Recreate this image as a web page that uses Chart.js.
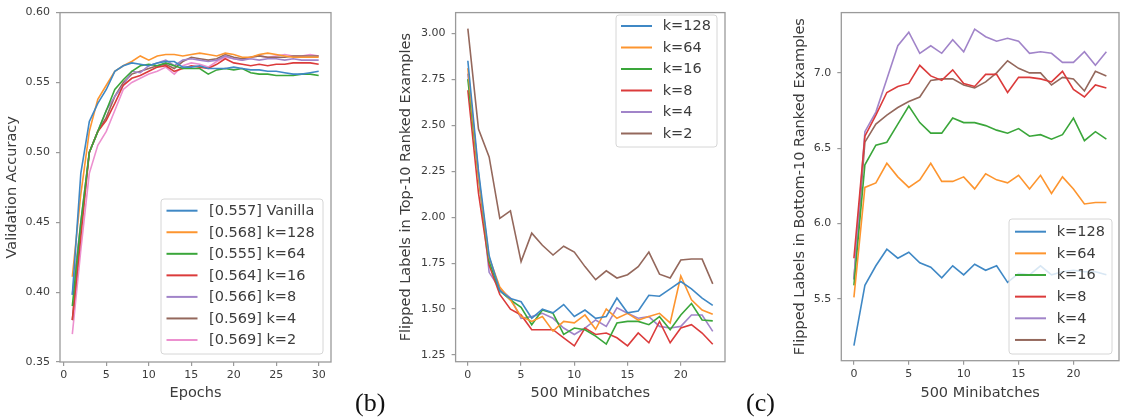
<!DOCTYPE html>
<html><head><meta charset="utf-8">
<script src="https://cdn.jsdelivr.net/npm/chart.js@4.4.1/dist/chart.umd.min.js"></script>
<style>
html,body{margin:0;padding:0;background:#fff;}
body{width:1125px;height:417px;position:relative;overflow:hidden;}
canvas{position:absolute;top:0;}
.cap{position:absolute;font-family:"Liberation Serif","DejaVu Serif",serif;font-size:26px;line-height:26px;color:#111;}
</style></head><body>
<canvas id="c1" width="345" height="417" style="left:0px;width:345px;height:417px"></canvas>
<canvas id="c2" width="370" height="417" style="left:380px;width:370px;height:417px"></canvas>
<canvas id="c3" width="365" height="417" style="left:760px;width:365px;height:417px"></canvas>
<div class="cap" style="left:355px;top:390px">(b)</div>
<div class="cap" style="left:746px;top:390px">(c)</div>
<script>
// ---------- data ----------
const epochs = [1,2,3,4,5,6,7,8,9,10,11,12,13,14,15,16,17,18,19,20,21,22,23,24,25,26,27,28,29,30];
const accLabels = ['[0.557] Vanilla','[0.568] k=128','[0.555] k=64','[0.564] k=16','[0.566] k=8','[0.569] k=4','[0.569] k=2'];
const accVanilla = [0.398,0.485,0.522,0.535,0.545,0.558,0.562,0.564,0.563,0.562,0.564,0.565,0.565,0.561,0.561,0.562,0.560,0.560,0.560,0.561,0.560,0.559,0.559,0.558,0.558,0.557,0.556,0.556,0.557,0.558];
const accK128 = [0.411,0.470,0.515,0.538,0.548,0.558,0.562,0.565,0.569,0.566,0.569,0.570,0.570,0.569,0.570,0.571,0.570,0.569,0.571,0.570,0.568,0.568,0.570,0.571,0.570,0.569,0.568,0.568,0.568,0.568];
const accK64 = [0.390,0.450,0.500,0.515,0.530,0.545,0.552,0.558,0.562,0.563,0.562,0.564,0.562,0.560,0.560,0.560,0.556,0.559,0.560,0.559,0.560,0.557,0.556,0.556,0.555,0.555,0.555,0.556,0.556,0.555];
const accK16 = [0.380,0.440,0.500,0.515,0.523,0.535,0.548,0.553,0.555,0.558,0.561,0.562,0.558,0.560,0.562,0.561,0.560,0.563,0.567,0.564,0.563,0.562,0.563,0.562,0.563,0.563,0.564,0.564,0.564,0.563];
const accK8 = [0.398,0.450,0.500,0.515,0.530,0.540,0.548,0.558,0.557,0.562,0.564,0.566,0.562,0.566,0.567,0.566,0.565,0.566,0.569,0.567,0.566,0.567,0.566,0.567,0.567,0.566,0.567,0.566,0.566,0.566];
const accK4 = [0.380,0.445,0.500,0.515,0.525,0.540,0.550,0.556,0.558,0.560,0.562,0.563,0.560,0.565,0.568,0.567,0.566,0.567,0.570,0.568,0.567,0.568,0.569,0.568,0.568,0.568,0.569,0.569,0.569,0.569];
const accK2 = [0.370,0.430,0.485,0.505,0.515,0.530,0.545,0.550,0.553,0.556,0.558,0.561,0.556,0.562,0.564,0.563,0.561,0.565,0.568,0.567,0.566,0.568,0.569,0.568,0.569,0.570,0.569,0.569,0.570,0.569];
const accXTicks = [0,5,10,15,20,25,30];
const accYTicks = [0.35,0.40,0.45,0.50,0.55,0.60];

const steps = [0,1,2,3,4,5,6,7,8,9,10,11,12,13,14,15,16,17,18,19,20,21,22,23];
const kLabels = ['k=128','k=64','k=16','k=8','k=4','k=2'];
const topK128 = [2.85,2.25,1.79,1.60,1.557,1.54,1.45,1.50,1.48,1.525,1.46,1.495,1.45,1.46,1.56,1.48,1.49,1.575,1.57,1.61,1.65,1.61,1.56,1.52];
const topK64 = [2.81,2.22,1.78,1.62,1.55,1.46,1.433,1.46,1.38,1.433,1.425,1.468,1.39,1.50,1.45,1.477,1.44,1.46,1.477,1.425,1.68,1.55,1.495,1.472];
const topK16 = [2.75,2.22,1.76,1.60,1.55,1.51,1.415,1.495,1.477,1.362,1.397,1.388,1.353,1.31,1.424,1.433,1.433,1.415,1.459,1.388,1.468,1.53,1.441,1.436];
const topK8 = [2.69,2.13,1.74,1.58,1.50,1.468,1.388,1.388,1.388,1.344,1.30,1.397,1.362,1.37,1.344,1.30,1.37,1.317,1.433,1.317,1.397,1.415,1.37,1.309];
const topK4 = [2.78,2.24,1.70,1.61,1.56,1.45,1.459,1.477,1.45,1.397,1.362,1.397,1.441,1.406,1.507,1.477,1.45,1.459,1.406,1.397,1.406,1.468,1.468,1.379];
const topK2 = [3.025,2.479,2.327,1.993,2.034,1.758,1.913,1.847,1.794,1.842,1.81,1.731,1.66,1.708,1.669,1.687,1.731,1.81,1.69,1.669,1.767,1.772,1.772,1.637];
const topYTicks = [1.25,1.50,1.75,2.00,2.25,2.50,2.75,3.00];

const botK128 = [5.19,5.59,5.72,5.83,5.77,5.81,5.74,5.71,5.64,5.72,5.66,5.73,5.69,5.72,5.61,5.67,5.66,5.72,5.66,5.68,5.69,5.68,5.68,5.66];
const botK64 = [5.51,6.24,6.27,6.40,6.31,6.24,6.29,6.40,6.28,6.28,6.31,6.23,6.33,6.29,6.27,6.32,6.23,6.32,6.20,6.31,6.23,6.13,6.14,6.14];
const botK16 = [5.59,6.39,6.52,6.54,6.66,6.78,6.67,6.60,6.60,6.70,6.67,6.67,6.65,6.62,6.60,6.63,6.58,6.59,6.56,6.59,6.70,6.55,6.61,6.56];
const botK8 = [5.77,6.58,6.72,6.87,6.91,6.93,7.05,6.98,6.95,7.02,6.93,6.91,6.99,6.99,6.87,6.97,6.97,6.96,6.94,7.01,6.89,6.84,6.92,6.90];
const botK4 = [5.63,6.61,6.74,6.96,7.18,7.27,7.13,7.18,7.13,7.22,7.14,7.29,7.24,7.21,7.23,7.21,7.13,7.14,7.13,7.07,7.07,7.14,7.05,7.14];
const botK2 = [5.63,6.54,6.66,6.72,6.77,6.81,6.84,6.95,6.96,6.96,6.92,6.90,6.94,7.00,7.08,7.03,7.00,7.00,6.92,6.97,6.96,6.88,7.01,6.98];
const botYTicks = [5.5,6.0,6.5,7.0];
const stepXTicks = [0,5,10,15,20];

// ---------- styles ----------
const C = {blue:'#3f88c5', orange:'#fd952f', green:'#3aa63a', red:'#db3b3b', purple:'#a184c9', brown:'#94685c', pink:'#ec90cf'};
const SPINE = '#9a9a9a';
const TXT = '#3c3c3c';
const FAM = '"DejaVu Sans", sans-serif';

const framePlugin = {
  id: 'frame',
  afterDatasetsDraw(chart) {
    const {ctx, chartArea: a} = chart;
    ctx.save();
    ctx.strokeStyle = SPINE; ctx.lineWidth = 1.3;
    ctx.strokeRect(a.left, a.top, a.right - a.left, a.bottom - a.top);
    ctx.restore();
  }
};
const legendPlugin = {
  id: 'insideLegend',
  afterDatasetsDraw(chart, args, o) {
    const ctx = chart.ctx;
    ctx.save();
    const r = 3;
    ctx.beginPath();
    ctx.moveTo(o.x + r, o.y);
    ctx.arcTo(o.x + o.w, o.y, o.x + o.w, o.y + o.h, r);
    ctx.arcTo(o.x + o.w, o.y + o.h, o.x, o.y + o.h, r);
    ctx.arcTo(o.x, o.y + o.h, o.x, o.y, r);
    ctx.arcTo(o.x, o.y, o.x + o.w, o.y, r);
    ctx.closePath();
    ctx.fillStyle = 'rgba(255,255,255,0.8)';
    ctx.fill();
    ctx.strokeStyle = '#d6d6d6'; ctx.lineWidth = 1;
    ctx.stroke();
    ctx.font = '14.5px ' + FAM;
    ctx.textBaseline = 'middle';
    ctx.textAlign = 'left';
    chart.data.datasets.forEach((ds, i) => {
      const yy = o.row0 + i * o.gap;
      ctx.strokeStyle = ds.borderColor; ctx.lineWidth = 2;
      ctx.beginPath(); ctx.moveTo(o.h0, yy); ctx.lineTo(o.h1, yy); ctx.stroke();
      ctx.fillStyle = TXT;
      ctx.fillText(ds.label, o.tx, yy + 0.5);
    });
    ctx.restore();
  }
};

function makeChart(id, cfg) {
  const tickFont = {family: FAM, size: 11};
  const titleFont = {family: FAM, size: 14.5, lineHeight: 1.2};
  return new Chart(document.getElementById(id), {
    type: 'line',
    data: {
      datasets: cfg.series.map((ys, i) => ({
        label: cfg.labels[i],
        data: ys.map((y, j) => ({x: cfg.xs[j], y: y})),
        borderColor: cfg.colors[i], backgroundColor: cfg.colors[i],
        borderWidth: 1.6, pointRadius: 0, tension: 0, fill: false
      }))
    },
    options: {
      responsive: false, animation: false, devicePixelRatio: 1,
      layout: {padding: {top: cfg.area.top, right: cfg.area.right, left: 0, bottom: 0}},
      plugins: {legend: {display: false}, tooltip: {enabled: false}, insideLegend: cfg.legend},
      scales: {
        x: {
          type: 'linear', min: cfg.xMin, max: cfg.xMax,
          afterFit: s => { s.height = cfg.area.xh; },
          afterBuildTicks: s => { s.ticks = cfg.xTicks.map(v => ({value: v})); },
          grid: {drawOnChartArea: false, drawTicks: true, tickLength: 4, color: SPINE, lineWidth: 1.2},
          border: {display: false},
          ticks: {font: tickFont, color: TXT, padding: 3, maxRotation: 0, autoSkip: false, callback: v => String(v)},
          title: {display: true, text: cfg.xTitle, font: titleFont, color: TXT, padding: {top: 0, bottom: 15.3}}
        },
        y: {
          type: 'linear', min: cfg.yMin, max: cfg.yMax,
          afterFit: s => { s.width = cfg.area.left; },
          afterBuildTicks: s => { s.ticks = cfg.yTicks.map(v => ({value: v})); },
          grid: {drawOnChartArea: false, drawTicks: true, tickLength: 4, color: SPINE, lineWidth: 1.2},
          border: {display: false},
          ticks: {font: tickFont, color: TXT, padding: 6, autoSkip: false, callback: v => Number(v).toFixed(cfg.yDec)},
          title: {display: true, text: cfg.yTitle, font: titleFont, color: TXT, padding: {top: cfg.yTitlePad, bottom: 0}}
        }
      }
    },
    plugins: [framePlugin, legendPlugin]
  });
}

makeChart('c1', {
  xs: epochs,
  series: [accVanilla, accK128, accK64, accK16, accK8, accK4, accK2],
  labels: accLabels,
  colors: [C.blue, C.orange, C.green, C.red, C.purple, C.brown, C.pink],
  xMin: -0.45, xMax: 31.45, yMin: 0.35, yMax: 0.60,
  xTicks: accXTicks, yTicks: accYTicks, yDec: 2,
  xTitle: 'Epochs', yTitle: 'Validation Accuracy', yTitlePad: 3.3,
  area: {left: 60, top: 7, right: 14, xh: 55},
  legend: {x: 161, y: 199, w: 162, h: 155, row0: 210.7, gap: 21.55, h0: 166.5, h1: 197.5, tx: 209}
});

makeChart('c2', {
  xs: steps,
  series: [topK128, topK64, topK16, topK8, topK4, topK2],
  labels: kLabels,
  colors: [C.blue, C.orange, C.green, C.red, C.purple, C.brown],
  xMin: -1.15, xMax: 24.15, yMin: 1.214, yMax: 3.112,
  xTicks: stepXTicks, yTicks: topYTicks, yDec: 2,
  xTitle: '500 Minibatches', yTitle: 'Flipped Labels in Top-10 Ranked Examples', yTitlePad: 18,
  area: {left: 75.6, top: 5.7, right: 25, xh: 55.3},
  legend: {x: 236, y: 15, w: 101, h: 132, row0: 26, gap: 21.5, h0: 241, h1: 272, tx: 282.7}
});

makeChart('c3', {
  xs: steps,
  series: [botK128, botK64, botK16, botK8, botK4, botK2],
  labels: kLabels,
  colors: [C.blue, C.orange, C.green, C.red, C.purple, C.brown],
  xMin: -1.15, xMax: 24.15, yMin: 5.09, yMax: 7.40,
  xTicks: stepXTicks, yTicks: botYTicks, yDec: 1,
  xTitle: '500 Minibatches', yTitle: 'Flipped Labels in Bottom-10 Ranked Examples', yTitlePad: 31.3,
  area: {left: 81.3, top: 9.3, right: 6, xh: 56.3},
  legend: {x: 249, y: 219, w: 103, h: 135, row0: 231.7, gap: 21.65, h0: 255, h1: 286, tx: 296.7}
});
</script>
</body></html>
